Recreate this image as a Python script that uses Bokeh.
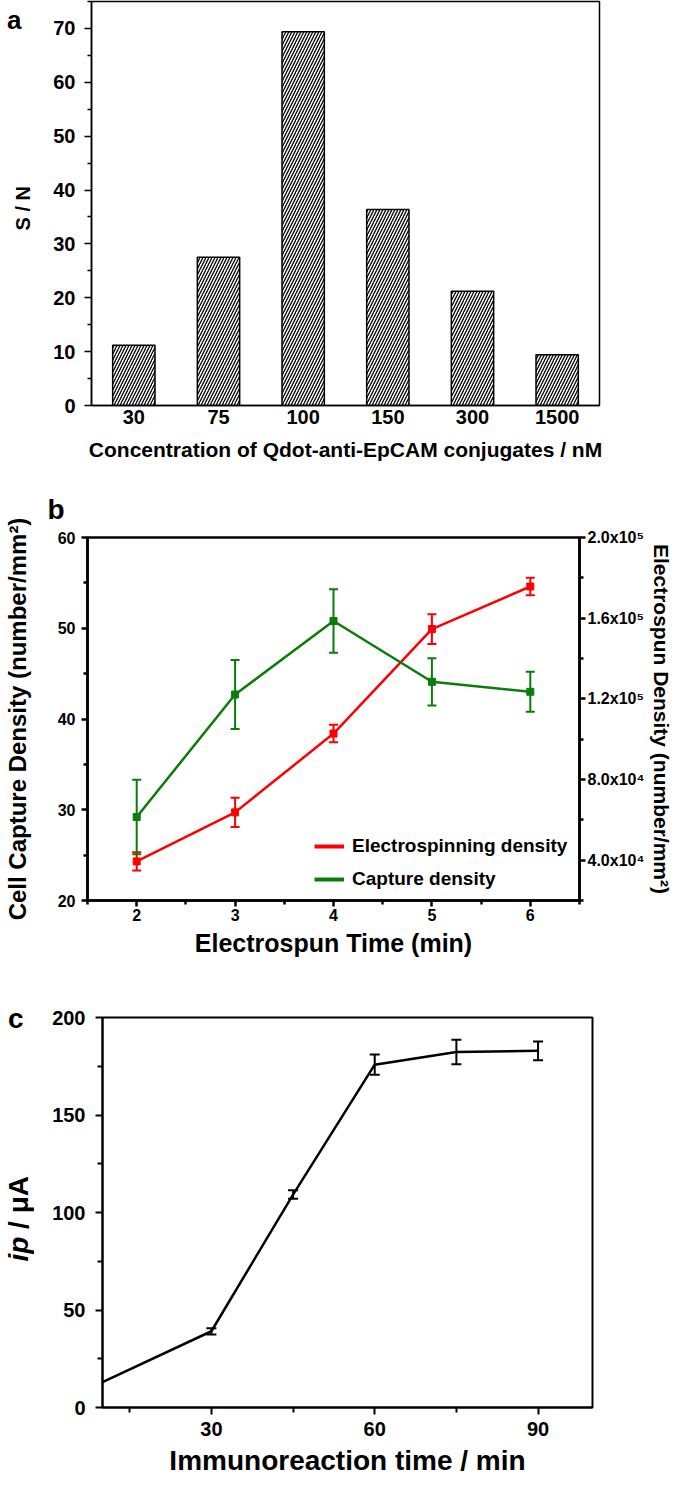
from bokeh.plotting import figure
from bokeh.layouts import column, row
from bokeh.models import (ColumnDataSource, FactorRange, Range1d, LinearAxis, FixedTicker,
                          Whisker, TeeHead, Legend, LegendItem, Title, Div, CustomJSTickFormatter)
from bokeh.embed import file_html
from bokeh.resources import INLINE

# ---------------- data ----------------
# panel a
conc_labels = ["30", "75", "100", "150", "300", "1500"]
sn_values = [11.2, 27.5, 69.4, 36.4, 21.2, 9.4]

# panel b
spin_time = [2, 3, 4, 5, 6]
capture_density = [29.2, 42.7, 50.8, 44.1, 43.0]
capture_err = [4.1, 3.8, 3.5, 2.6, 2.2]
electrospun_density = [39400, 63700, 102800, 154600, 175700]
electrospun_err = [4500, 7200, 4300, 7400, 4300]

# panel c
immuno_time = [0, 30, 45, 60, 75, 90]
ip_values = [0.0, 39.1, 109.2, 175.8, 182.3, 182.9]
ip_err = [0.0, 1.6, 2.2, 5.2, 6.3, 4.8]

FONT = "Liberation Sans"
RED = "#ff0000"
GREEN = "#0a7d0a"


def style_axis(ax, tick_px, lw, label_px=None):
    ax.major_label_text_font = FONT
    ax.major_label_text_font_style = "bold"
    ax.major_label_text_font_size = f"{tick_px}px"
    ax.major_label_text_color = "black"
    ax.axis_line_color = "black"
    ax.axis_line_width = lw
    ax.major_tick_line_color = "black"
    ax.minor_tick_line_color = "black"
    ax.major_tick_line_width = lw
    ax.minor_tick_line_width = lw
    ax.major_tick_in = 0
    ax.minor_tick_in = 0
    ax.axis_label_text_font = FONT
    ax.axis_label_text_font_style = "bold"
    ax.axis_label_text_color = "black"
    if label_px:
        ax.axis_label_text_font_size = f"{label_px}px"


SPAN = "position:absolute;white-space:nowrap;color:black;"
VERT = "writing-mode:vertical-rl;transform:rotate(180deg);line-height:1;"

# ---------------- panel a ----------------
pa = figure(x_range=FactorRange(factors=conc_labels, range_padding=0), y_range=Range1d(0, 75),
            frame_width=508, frame_height=404, min_border_left=41, min_border_right=86,
            min_border_top=1, min_border_bottom=63,
            output_backend="svg", toolbar_location=None)
pa.vbar(x=conc_labels, top=sn_values, width=0.5, fill_color="white", line_color="black",
        line_width=1.5, hatch_pattern="/", hatch_color="black", hatch_weight=1.3, hatch_scale=6)
pa.grid.visible = False
pa.outline_line_color = "black"
pa.outline_line_width = 1.5
pa.outline_line_alpha = 1

style_axis(pa.yaxis[0], 20, 1.5)
pa.yaxis[0].ticker = FixedTicker(ticks=[0, 10, 20, 30, 40, 50, 60, 70],
                                 minor_ticks=[5, 15, 25, 35, 45, 55, 65, 75])
pa.yaxis[0].major_tick_out = 7
pa.yaxis[0].minor_tick_out = 4
pa.yaxis[0].major_label_standoff = 9

style_axis(pa.xaxis[0], 20, 1.5, 21)
pa.xaxis[0].major_tick_out = 0
pa.xaxis[0].major_tick_line_color = None
pa.xaxis[0].minor_tick_line_color = None
pa.xaxis[0].major_label_standoff = 4
pa.xaxis[0].axis_label = "Concentration of Qdot-anti-EpCAM conjugates / nM"
pa.xaxis[0].axis_label_standoff = 11

div_a = Div(width=40, height=468, text=(
    f'<div style="position:relative;width:40px;height:468px;font-family:\'{FONT}\';font-weight:bold;">'
    f'<span style="{SPAN}left:2px;top:0px;font-size:26px;line-height:normal;">a</span>'
    f'<span style="{SPAN}{VERT}left:8px;top:181px;font-size:20px;">S / N</span>'
    '</div>'))

# ---------------- panel b ----------------
pb = figure(x_range=Range1d(1.5, 6.5), y_range=Range1d(20, 60),
            frame_width=492, frame_height=363, min_border_left=87, min_border_right=96,
            min_border_top=58, min_border_bottom=67,
            output_backend="svg", toolbar_location=None)
pb.extra_y_ranges = {"spun": Range1d(2e4, 2e5)}
pb.grid.visible = False
pb.outline_line_color = "black"
pb.outline_line_width = 2.5
pb.outline_line_alpha = 1

src_red = ColumnDataSource(dict(x=spin_time, y=electrospun_density,
                                upper=[v + e for v, e in zip(electrospun_density, electrospun_err)],
                                lower=[v - e for v, e in zip(electrospun_density, electrospun_err)]))
src_green = ColumnDataSource(dict(x=spin_time, y=capture_density,
                                  upper=[v + e for v, e in zip(capture_density, capture_err)],
                                  lower=[v - e for v, e in zip(capture_density, capture_err)]))

pb.line("x", "y", source=src_red, y_range_name="spun", line_color=RED, line_width=2.5)
pb.scatter("x", "y", source=src_red, y_range_name="spun", marker="square", size=7,
           fill_color=RED, line_color=RED)
pb.add_layout(Whisker(source=src_red, base="x", upper="upper", lower="lower", y_range_name="spun",
                      line_color=RED, line_width=2,
                      upper_head=TeeHead(size=9, line_color=RED, line_width=2),
                      lower_head=TeeHead(size=9, line_color=RED, line_width=2)))

pb.line("x", "y", source=src_green, line_color=GREEN, line_width=2.5)
pb.scatter("x", "y", source=src_green, marker="square", size=7, fill_color=GREEN, line_color=GREEN)
pb.add_layout(Whisker(source=src_green, base="x", upper="upper", lower="lower",
                      line_color=GREEN, line_width=2,
                      upper_head=TeeHead(size=9, line_color=GREEN, line_width=2),
                      lower_head=TeeHead(size=9, line_color=GREEN, line_width=2)))

# legend sample lines: single-point lines (draw nothing in the plot), thicker strokes
leg_red = pb.line(x=spin_time[:1], y=electrospun_density[:1], y_range_name="spun",
                  line_color=RED, line_width=4)
leg_green = pb.line(x=spin_time[:1], y=capture_density[:1], line_color=GREEN, line_width=4)

style_axis(pb.yaxis[0], 16, 2.5, 24)
pb.yaxis[0].ticker = FixedTicker(ticks=[20, 30, 40, 50, 60], minor_ticks=[25, 35, 45, 55])
pb.yaxis[0].major_tick_out = 6
pb.yaxis[0].minor_tick_out = 4
pb.yaxis[0].major_label_standoff = 6
pb.yaxis[0].axis_label = "Cell Capture Density (number/mm²)"
pb.yaxis[0].axis_label_standoff = 24

style_axis(pb.xaxis[0], 16, 2.5, 25)
pb.xaxis[0].ticker = FixedTicker(ticks=[2, 3, 4, 5, 6], minor_ticks=[1.5, 2.5, 3.5, 4.5, 5.5, 6.5])
pb.xaxis[0].major_tick_out = 6
pb.xaxis[0].minor_tick_out = 4
pb.xaxis[0].major_label_standoff = 2
pb.xaxis[0].axis_label = "Electrospun Time (min)"
pb.xaxis[0].axis_label_standoff = 5

right_ax = LinearAxis(y_range_name="spun")
style_axis(right_ax, 16, 2.5, 21)
right_ax.ticker = FixedTicker(ticks=[40000, 80000, 120000, 160000, 200000],
                              minor_ticks=[20000, 60000, 100000, 140000, 180000])
right_ax.formatter = CustomJSTickFormatter(code="""
const e = Math.floor(Math.log10(tick) + 1e-9);
const m = tick / Math.pow(10, e);
const sup = {"4": "⁴", "5": "⁵"};
return m.toFixed(1) + "x10" + sup[String(e)];
""")
right_ax.major_tick_out = 6
right_ax.minor_tick_out = 4
right_ax.major_label_standoff = 2
right_ax.axis_label = "Electrospun Density (number/mm²)"
right_ax.axis_label_standoff = 3
pb.add_layout(right_ax, "right")

legend = Legend(items=[LegendItem(label="Electrospinning density", renderers=[leg_red]),
                       LegendItem(label="Capture density", renderers=[leg_green])],
                location=(227, 10), border_line_color=None, background_fill_alpha=0,
                padding=0, margin=0, spacing=11, glyph_width=30, glyph_height=20,
                label_height=20, label_standoff=8, label_text_color="black",
                label_text_font=FONT, label_text_font_style="bold", label_text_font_size="19px")
pb.add_layout(legend)
pb.add_layout(Title(text="b", align="left", offset=-40, standoff=26, vertical_align="bottom",
                    text_font=FONT, text_font_style="bold", text_font_size="28px",
                    text_color="black"), "above")

# ---------------- panel c ----------------
pc = figure(x_range=Range1d(10, 100), y_range=Range1d(0, 200),
            frame_width=490, frame_height=390, min_border_left=56, min_border_right=93,
            min_border_top=50, min_border_bottom=75,
            output_backend="svg", toolbar_location=None)
pc.grid.visible = False
pc.outline_line_color = "black"
pc.outline_line_width = 2
pc.outline_line_alpha = 1

pc.line(immuno_time, ip_values, line_color="black", line_width=2.5)
err_idx = [i for i, e in enumerate(ip_err) if e > 0]
src_c = ColumnDataSource(dict(x=[immuno_time[i] for i in err_idx],
                              upper=[ip_values[i] + ip_err[i] for i in err_idx],
                              lower=[ip_values[i] - ip_err[i] for i in err_idx]))
pc.add_layout(Whisker(source=src_c, base="x", upper="upper", lower="lower",
                      line_color="black", line_width=2,
                      upper_head=TeeHead(size=10, line_color="black", line_width=2),
                      lower_head=TeeHead(size=10, line_color="black", line_width=2)))

style_axis(pc.yaxis[0], 20, 2)
pc.yaxis[0].ticker = FixedTicker(ticks=[0, 50, 100, 150, 200], minor_ticks=[25, 75, 125, 175])
pc.yaxis[0].major_tick_out = 7
pc.yaxis[0].minor_tick_out = 5
pc.yaxis[0].major_label_standoff = 10

style_axis(pc.xaxis[0], 20, 2, 28)
pc.xaxis[0].ticker = FixedTicker(ticks=[30, 60, 90], minor_ticks=[15, 45, 75])
pc.xaxis[0].major_tick_out = 7
pc.xaxis[0].minor_tick_out = 5
pc.xaxis[0].major_label_standoff = 7
pc.xaxis[0].axis_label = "Immunoreaction time / min"
pc.xaxis[0].axis_label_standoff = 6

div_c = Div(width=36, height=515, text=(
    f'<div style="position:relative;width:36px;height:515px;font-family:\'{FONT}\';font-weight:bold;">'
    f'<span style="{SPAN}left:3px;top:33px;font-size:28px;line-height:1;">c</span>'
    f'<span style="{SPAN}{VERT}left:0px;top:204px;font-size:28px;"><i>ip</i> / μA</span>'
    '</div>'))

layout = column(row(div_a, pa, spacing=0), pb, row(div_c, pc, spacing=0), spacing=0)
open("out.html", "w").write(file_html(layout, INLINE))
